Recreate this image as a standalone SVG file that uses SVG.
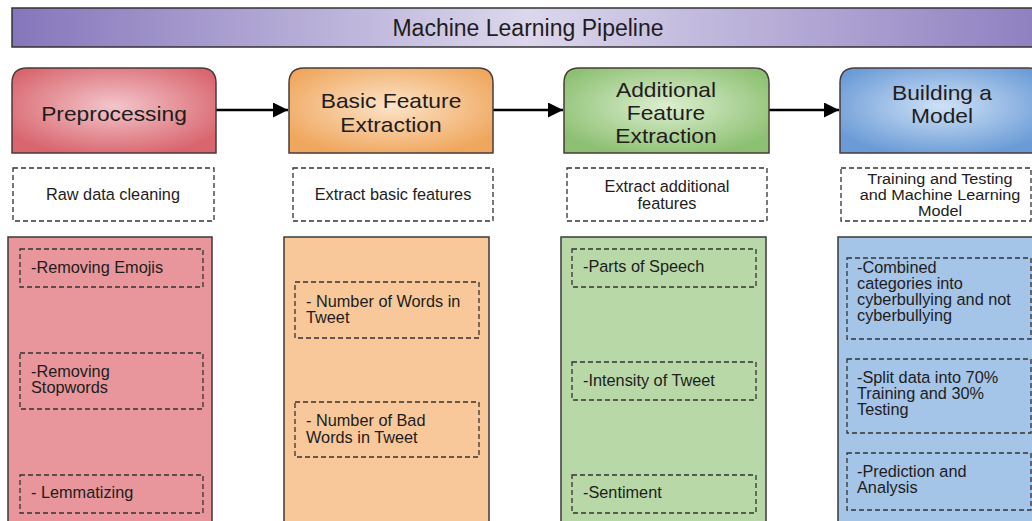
<svg xmlns="http://www.w3.org/2000/svg" width="1032" height="521" viewBox="0 0 1032 521">
  <defs>
    <linearGradient id="gTitle" x1="0" y1="0" x2="1" y2="0">
      <stop offset="0" stop-color="#8576bb"/>
      <stop offset="0.5" stop-color="#dcd7ec"/>
      <stop offset="1" stop-color="#8e7fc0"/>
    </linearGradient>
    <radialGradient id="gRed" cx="0.5" cy="0.45" r="0.6">
      <stop offset="0" stop-color="#f3c6cb"/>
      <stop offset="1" stop-color="#d9666f"/>
    </radialGradient>
    <radialGradient id="gOrange" cx="0.5" cy="0.45" r="0.6">
      <stop offset="0" stop-color="#fde3c8"/>
      <stop offset="1" stop-color="#efa75e"/>
    </radialGradient>
    <radialGradient id="gGreen" cx="0.5" cy="0.45" r="0.6">
      <stop offset="0" stop-color="#dcefd0"/>
      <stop offset="1" stop-color="#8dc072"/>
    </radialGradient>
    <radialGradient id="gBlue" cx="0.5" cy="0.45" r="0.6">
      <stop offset="0" stop-color="#cfe1f6"/>
      <stop offset="1" stop-color="#6a9bd6"/>
    </radialGradient>
    <marker id="arrow" viewBox="0 0 10 10" refX="10" refY="5" markerWidth="9" markerHeight="6" markerUnits="strokeWidth" orient="auto">
      <path d="M0,0 L10,5 L0,10 z" fill="#000"/>
    </marker>
  </defs>
  <style>
    text { font-family: "Liberation Sans", Arial, sans-serif; fill: #221c1c; }
    .title { font-size: 23px; text-anchor: middle; }
    .head { font-size: 20px; text-anchor: middle; }
    .desc { font-size: 16.3px; text-anchor: middle; }
    .desc2 { font-size: 14px; text-anchor: middle; }
    .item { font-size: 16.3px; }
    .hdr { stroke: #4a3a3a; stroke-width: 1.5; }
    .panel { stroke: #3a3a3a; stroke-width: 1.5; }
    .dash { fill: none; stroke: #333; stroke-width: 1.3; stroke-dasharray: 5 3; }
    .conn { stroke: #000; stroke-width: 2.5; fill: none; }
  </style>
  <rect width="1032" height="521" fill="#fff"/>

  <g id="title">
    <rect x="12" y="8" width="1030" height="39" fill="url(#gTitle)" stroke="#333" stroke-width="1.5"/>
    <text class="title" x="528" y="36">Machine Learning Pipeline</text>
  </g>

  <g id="connectors">
    <line class="conn" x1="216" y1="110" x2="288" y2="110" marker-end="url(#arrow)"/>
    <line class="conn" x1="493" y1="110" x2="563" y2="110" marker-end="url(#arrow)"/>
    <line class="conn" x1="769" y1="110" x2="839" y2="110" marker-end="url(#arrow)"/>
  </g>

  <g id="preprocessing">
    <path class="hdr" d="M12,153 L12,83 Q12,68 27,68 L201,68 Q216,68 216,83 L216,153 Z" fill="url(#gRed)"/>
    <text class="head" transform="translate(114,121) scale(1.14,1)">Preprocessing</text>
  </g>
  <g id="basic-feature-extraction">
    <path class="hdr" d="M289,153 L289,83 Q289,68 304,68 L478,68 Q493,68 493,83 L493,153 Z" fill="url(#gOrange)"/>
    <text class="head" transform="translate(391,108) scale(1.14,1)">Basic Feature</text>
    <text class="head" transform="translate(391,132) scale(1.14,1)">Extraction</text>
  </g>
  <g id="additional-feature-extraction">
    <path class="hdr" d="M564,153 L564,83 Q564,68 579,68 L754,68 Q769,68 769,83 L769,153 Z" fill="url(#gGreen)"/>
    <text class="head" transform="translate(666,97) scale(1.14,1)">Additional</text>
    <text class="head" transform="translate(666,120) scale(1.14,1)">Feature</text>
    <text class="head" transform="translate(666,143) scale(1.14,1)">Extraction</text>
  </g>
  <g id="building-a-model">
    <path class="hdr" d="M840,153 L840,83 Q840,68 855,68 L1029,68 Q1044,68 1044,83 L1044,153 Z" fill="url(#gBlue)"/>
    <text class="head" transform="translate(942,100) scale(1.14,1)">Building a</text>
    <text class="head" transform="translate(942,123) scale(1.14,1)">Model</text>
  </g>

  <g id="desc-raw">
    <rect class="dash" x="13" y="168" width="201" height="53"/>
    <text class="desc" x="113" y="200">Raw data cleaning</text>
  </g>
  <g id="desc-basic">
    <rect class="dash" x="293" y="168" width="200" height="53"/>
    <text class="desc" x="393" y="200">Extract basic features</text>
  </g>
  <g id="desc-additional">
    <rect class="dash" x="567" y="168" width="200" height="53"/>
    <text class="desc" x="667" y="192">Extract additional</text>
    <text class="desc" x="667" y="209">features</text>
  </g>
  <g id="desc-model">
    <rect class="dash" x="841" y="168" width="190" height="53"/>
    <text class="desc2" transform="translate(940,183.5) scale(1.16,1)">Training and Testing</text>
    <text class="desc2" transform="translate(940,199.5) scale(1.16,1)">and Machine Learning</text>
    <text class="desc2" transform="translate(940,215.5) scale(1.16,1)">Model</text>
  </g>

  <g id="panel-preprocessing">
    <rect class="panel" x="8" y="237" width="204" height="295" fill="#e8969b"/>
    <rect class="dash" x="20" y="249" width="183" height="38"/>
    <text class="item" x="31" y="273">-Removing Emojis</text>
    <rect class="dash" x="20" y="353" width="183" height="56"/>
    <text class="item" x="31" y="377">-Removing</text>
    <text class="item" x="31" y="393">Stopwords</text>
    <rect class="dash" x="20" y="475" width="183" height="38"/>
    <text class="item" x="31" y="498">- Lemmatizing</text>
  </g>
  <g id="panel-basic">
    <rect class="panel" x="284" y="237" width="205" height="295" fill="#f8c89a"/>
    <rect class="dash" x="295" y="282" width="184" height="56"/>
    <text class="item" x="306" y="307">- Number of Words in</text>
    <text class="item" x="306" y="323">Tweet</text>
    <rect class="dash" x="295" y="402" width="184" height="55"/>
    <text class="item" x="306" y="426">- Number of Bad</text>
    <text class="item" x="306" y="443">Words in Tweet</text>
  </g>
  <g id="panel-additional">
    <rect class="panel" x="561" y="237" width="205" height="295" fill="#b8d8a8"/>
    <rect class="dash" x="572" y="249" width="184" height="38"/>
    <text class="item" x="583" y="272">-Parts of Speech</text>
    <rect class="dash" x="572" y="362" width="184" height="38"/>
    <text class="item" x="583" y="386">-Intensity of Tweet</text>
    <rect class="dash" x="572" y="475" width="184" height="38"/>
    <text class="item" x="583" y="498">-Sentiment</text>
  </g>
  <g id="panel-model">
    <rect class="panel" x="838" y="237" width="205" height="295" fill="#a4c4e8"/>
    <rect class="dash" x="847" y="258" width="184" height="81"/>
    <text class="item" x="857" y="273">-Combined</text>
    <text class="item" x="857" y="289">categories into</text>
    <text class="item" x="857" y="305">cyberbullying and not</text>
    <text class="item" x="857" y="321">cyberbullying</text>
    <rect class="dash" x="847" y="359" width="184" height="74"/>
    <text class="item" x="857" y="383">-Split data into 70%</text>
    <text class="item" x="857" y="399">Training and 30%</text>
    <text class="item" x="857" y="415">Testing</text>
    <rect class="dash" x="847" y="453" width="184" height="57"/>
    <text class="item" x="857" y="477">-Prediction and</text>
    <text class="item" x="857" y="493">Analysis</text>
  </g>
</svg>
